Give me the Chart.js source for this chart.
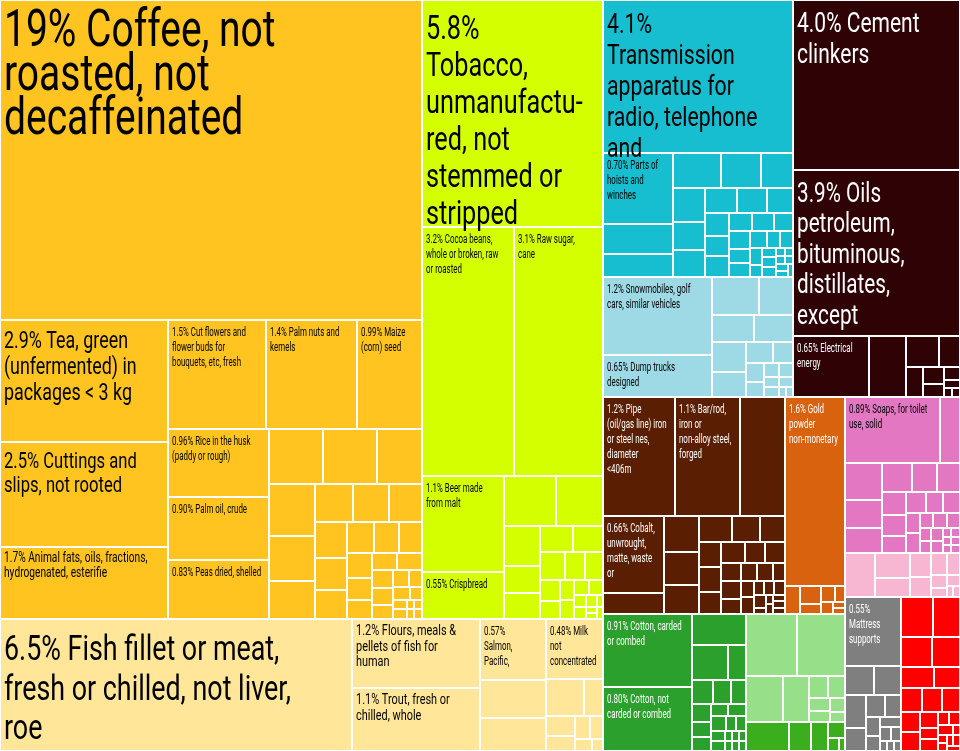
<!DOCTYPE html>
<html>
<head>
<meta charset="utf-8">
<title>Export treemap</title>
<script src="https://cdn.jsdelivr.net/npm/chart.js@4.4.1/dist/chart.umd.min.js"></script>
<style>
  html, body { margin: 0; padding: 0; background: #fff; }
  #graph { display: block; }
</style>
</head>
<body>
<canvas id="graph" width="960" height="751"></canvas>
<script>
// ---- data (share of exports, %) ----
const vegNames = ['19% Coffee, not\nroasted, not\ndecaffeinated', '2.9% Tea, green\n(unfermented) in\npackages < 3 kg',
    '2.5% Cuttings and\nslips, not rooted', '1.7% Animal fats, oils, fractions,\nhydrogenated, esterifie',
    '1.5% Cut flowers and\nflower buds for\nbouquets, etc, fresh', '1.4% Palm nuts and\nkernels', '0.99% Maize\n(corn) seed',
    '0.96% Rice in the husk\n(paddy or rough)', '0.90% Palm oil, crude', '0.83% Peas dried, shelled'];
const vegValues = [19, 2.9, 2.5, 1.7, 1.5, 1.4, 0.99, 0.96, 0.90, 0.83];
const vegSmall = [0.43, 0.42, 0.35, 0.34, 0.3, 0.25, 0.2, 0.19, 0.17, 0.16, 0.14, 0.13, 0.12, 0.11, 0.1, 0.09, 0.08,
    0.07, 0.06, 0.06, 0.05, 0.05, 0.04, 0.04, 0.03, 0.03, 0.02, 0.02, 0.02, 0.01, 0.01, 0.01, 0.01];

const foodNames = ['5.8%\nTobacco,\nunmanufactu-\nred, not\nstemmed or\nstripped', '3.2% Cocoa beans,\nwhole or broken, raw\nor roasted',
    '3.1% Raw sugar,\ncane', '1.1% Beer made\nfrom malt', '0.55% Crispbread'];
const foodValues = [5.8, 3.24, 3.14, 1.1, 0.55];
const foodSmall = [0.37, 0.33, 0.2, 0.14, 0.13, 0.12, 0.11, 0.1, 0.08, 0.07, 0.06, 0.05, 0.04, 0.04, 0.03, 0.03, 0.02,
    0.02, 0.02, 0.01, 0.01, 0.01, 0.01];

const animalNames = ['6.5% Fish fillet or meat,\nfresh or chilled, not liver,\nroe', '1.2% Flours, meals &\npellets of fish for\nhuman',
    '1.1% Trout, fresh or\nchilled, whole', '0.57%\nSalmon,\nPacific,', '0.48% Milk\nnot\nconcentrated'];
const animalValues = [6.54, 1.24, 1.14, 0.57, 0.48];
const animalSmallA = [0.35, 0.31];
const animalSmallB = [0.2, 0.1, 0.08, 0.06, 0.05, 0.04, 0.03, 0.02];

const machNames = ['4.1%\nTransmission\napparatus for\nradio, telephone\nand', '0.70% Parts of\nhoists and\nwinches', '', ''];
const machValues = [4.1, 0.70, 0.29, 0.23];
const machSmall = [0.24, 0.2, 0.16, 0.15, 0.13, 0.12, 0.11, 0.1, 0.09, 0.08, 0.07, 0.07, 0.06, 0.06, 0.05, 0.05, 0.04,
    0.04, 0.04, 0.03, 0.03, 0.03, 0.02, 0.02, 0.02, 0.02, 0.01, 0.01, 0.01, 0.01, 0.01, 0.01, 0.01];

const transNames = ['1.2% Snowmobiles, golf\ncars, similar vehicles', '0.65% Dump trucks\ndesigned'];
const transValues = [1.2, 0.65];
const transSmall = [0.25, 0.18, 0.16, 0.15, 0.14, 0.12, 0.08, 0.06, 0.05, 0.04, 0.03, 0.03, 0.02, 0.02, 0.02, 0.01, 0.01];

const mineralNames = ['4.0% Cement\nclinkers', '3.9% Oils\npetroleum,\nbituminous,\ndistillates,\nexcept', '0.65% Electrical\nenergy'];
const mineralValues = [4.0, 3.9, 0.65];
const mineralSmall = [0.32, 0.14, 0.09, 0.07, 0.05, 0.04, 0.03, 0.02, 0.01, 0.01];

const metalNames = ['1.2% Pipe\n(oil/gas line) iron\nor steel nes,\ndiameter\n<406m', '1.1% Bar/rod,\niron or\nnon-alloy steel,\nforged', '',
    '0.66% Cobalt,\nunwrought,\nmatte, waste\nor', ''];
const metalValues = [1.2, 1.1, 0.75, 0.66, 0.18];
const metalSmall = [0.17, 0.16, 0.14, 0.12, 0.1, 0.09, 0.08, 0.08, 0.07, 0.07, 0.06, 0.06, 0.05, 0.05, 0.04, 0.04, 0.04,
    0.03, 0.03, 0.03, 0.02, 0.02, 0.02, 0.02, 0.01, 0.01, 0.01, 0.01, 0.01, 0.01];

const goldNames = ['1.6% Gold\npowder\nnon-monetary'];
const goldValues = [1.6];
const goldSmall = [0.06, 0.05, 0.03, 0.03, 0.02, 0.02, 0.01, 0.01];

const cottonNames = ['0.91% Cotton, carded\nor combed', '0.80% Cotton, not\ncarded or combed'];
const cottonValues = [0.91, 0.80];
const cottonSmall = [0.24, 0.18, 0.09, 0.07, 0.06, 0.05, 0.05, 0.04, 0.04, 0.03, 0.03, 0.03, 0.02, 0.02, 0.02, 0.02,
    0.01, 0.01, 0.01, 0.01, 0.01, 0.01];
const lightGreenSmall = [0.45, 0.41, 0.24, 0.17, 0.06, 0.05, 0.04, 0.03, 0.03, 0.02];
const midGreenSmall = [0.18, 0.09, 0.07, 0.04, 0.02, 0.01];

const chemNames = ['0.89% Soaps, for toilet\nuse, solid', ''];
const chemValues = [0.89, 0.19];
const chemSmall = [0.19, 0.15, 0.13, 0.12, 0.1, 0.09, 0.08, 0.07, 0.06, 0.06, 0.05, 0.05, 0.04, 0.04, 0.03, 0.03, 0.03,
    0.02, 0.02, 0.02, 0.02, 0.01, 0.01, 0.01, 0.01, 0.01, 0.01];
const lightPinkSmall = [0.19, 0.12, 0.09, 0.07, 0.06, 0.05, 0.04, 0.03, 0.02, 0.02, 0.01, 0.01];

const miscNames = ['0.55%\nMattress\nsupports'];
const miscValues = [0.55];
const miscSmall = [0.12, 0.11, 0.1, 0.07, 0.06, 0.05, 0.04, 0.03, 0.03, 0.02, 0.02, 0.01, 0.01, 0.01];
const redSmall = [0.18, 0.15, 0.13, 0.12, 0.1, 0.08, 0.07, 0.07, 0.06, 0.05, 0.05, 0.04, 0.03, 0.03, 0.02, 0.02, 0.02,
    0.01, 0.01, 0.01, 0.01, 0.01, 0.01];

// ---- groups: colour + text colour ----
const veg = {names: vegNames, values: vegValues, color: '#FFC41F', ink: '#000'};
const food = {names: foodNames, values: foodValues, color: '#D4FF00', ink: '#000'};
const animal = {names: animalNames, values: animalValues, color: '#FFE699', ink: '#000'};
const mach = {names: machNames, values: machValues, color: '#17BECF', ink: '#000'};
const trans = {names: transNames, values: transValues, color: '#9EDAE5', ink: '#000'};
const mineral = {names: mineralNames, values: mineralValues, color: '#2F0205', ink: '#fff'};
const metal = {names: metalNames, values: metalValues, color: '#5A1E02', ink: '#fff'};
const gold = {names: goldNames, values: goldValues, color: '#D8620E', ink: '#fff'};
const cotton = {names: cottonNames, values: cottonValues, color: '#2CA02C', ink: '#fff'};
const lightGreen = {names: [], values: [], color: '#98DF8A', ink: '#000'};
const midGreen = {names: [], values: [], color: '#3BAE1E', ink: '#000'};
const chem = {names: chemNames, values: chemValues, color: '#E377C2', ink: '#000'};
const lightPink = {names: [], values: [], color: '#F7B6D2', ink: '#000'};
const misc = {names: miscNames, values: miscValues, color: '#7F7F7F', ink: '#fff'};
const plastic = {names: [], values: [], color: '#FF0000', ink: '#000'};

// ---- flat cell list + nesting ----
const cellValues = [], cellNames = [], cellColors = [], cellInk = [], cellStyle = [];
function item(g, i, style) {
    cellValues.push(g.values[i]); cellNames.push(g.names[i]);
    cellColors.push(g.color); cellInk.push(g.ink); cellStyle.push(style || null);
    return {cell: cellValues.length - 1};
}
function rest(g, vals) {
    return {sq: vals.map(v => {
        cellValues.push(v); cellNames.push(''); cellColors.push(g.color); cellInk.push(g.ink); cellStyle.push(null);
        return cellValues.length - 1;
    })};
}
const row = (...kids) => ({dir: 'h', kids});
const col = (...kids) => ({dir: 'v', kids});

const tree = row(
    col(
        row(
            col(item(veg, 0),
                row(col(item(veg, 1), item(veg, 2), item(veg, 3, 'wide')),
                    col(row(item(veg, 4), item(veg, 5), item(veg, 6)),
                        row(col(item(veg, 7), item(veg, 8), item(veg, 9)), rest(veg, vegSmall))))),
            col(item(food, 0),
                row(item(food, 1, 'small'), item(food, 2, 'small')),
                row(col(item(food, 3), item(food, 4)), rest(food, foodSmall)))
        ),
        row(item(animal, 0),
            col(item(animal, 1, 'mid'), item(animal, 2, 'mid')),
            col(item(animal, 3), rest(animal, animalSmallA)),
            col(item(animal, 4), rest(animal, animalSmallB)))
    ),
    col(
        row(
            col(col(item(mach, 0), row(col(item(mach, 1), item(mach, 2), item(mach, 3)), rest(mach, machSmall))),
                row(col(item(trans, 0), item(trans, 1)), rest(trans, transSmall))),
            col(item(mineral, 0), item(mineral, 1), row(item(mineral, 2), rest(mineral, mineralSmall)))
        ),
        row(
            col(
                row(col(row(item(metal, 0), item(metal, 1), item(metal, 2)),
                        row(col(item(metal, 3), item(metal, 4)), rest(metal, metalSmall))),
                    col(item(gold, 0), rest(gold, goldSmall))),
                row(col(item(cotton, 0), item(cotton, 1)), rest(cotton, cottonSmall),
                    col(rest(lightGreen, lightGreenSmall), rest(midGreen, midGreenSmall)))
            ),
            col(col(row(item(chem, 0), item(chem, 1)), rest(chem, chemSmall)),
                rest(lightPink, lightPinkSmall),
                row(col(item(misc, 0), rest(misc, miscSmall)), rest(plastic, redSmall)))
        )
    )
);

// ---- layout helpers ----
function nodeSum(node, vals) {
    if (node.cell !== undefined) return vals[node.cell];
    if (node.sq) return node.sq.reduce((s, id) => s + vals[id], 0);
    return node.kids.reduce((s, k) => s + nodeSum(k, vals), 0);
}
function squarify(ids, x0, y0, x1, y1, vals, out) {
    let left = ids.slice();
    while (left.length) {
        const w = x1 - x0, h = y1 - y0;
        const total = left.reduce((s, id) => s + vals[id], 0);
        const scale = w * h / total, side = Math.min(w, h);
        let take = 1, best = Infinity;
        for (let k = 1; k <= left.length; k++) {
            const thick = left.slice(0, k).reduce((s, id) => s + vals[id], 0) * scale / side;
            let worst = 0;
            for (let j = 0; j < k; j++) {
                const len = vals[left[j]] * scale / thick;
                worst = Math.max(worst, len / thick, thick / len);
            }
            if (worst > best) break;
            best = worst; take = k;
        }
        const rowIds = left.slice(0, take);
        const thick = rowIds.reduce((s, id) => s + vals[id], 0) * scale / side;
        let p = w >= h ? y0 : x0;
        rowIds.forEach(id => {
            const len = vals[id] * scale / thick;
            if (w >= h) out[id] = [x0, p, x0 + thick, p + len];
            else out[id] = [p, y0, p + len, y0 + thick];
            p += len;
        });
        if (w >= h) x0 += thick; else y0 += thick;
        left = left.slice(take);
    }
}
function placeNode(node, x0, y0, x1, y1, vals, out) {
    if (node.cell !== undefined) { out[node.cell] = [x0, y0, x1, y1]; return; }
    if (node.sq) { squarify(node.sq, x0, y0, x1, y1, vals, out); return; }
    const total = nodeSum(node, vals);
    let p = node.dir === 'h' ? x0 : y0;
    node.kids.forEach(k => {
        const f = nodeSum(k, vals) / total;
        if (node.dir === 'h') { const w = (x1 - x0) * f; placeNode(k, p, y0, p + w, y1, vals, out); p += w; }
        else { const h = (y1 - y0) * f; placeNode(k, x0, p, x1, p + h, vals, out); p += h; }
    });
}

// ---- a small treemap controller drawing BarElements ----
class TreemapLite extends Chart.DatasetController {
    getMinMax(scale) {
        return {min: scale.options.min, max: scale.options.max};
    }
    update(mode) {
        const meta = this._cachedMeta;
        this.updateElements(meta.data, 0, meta.data.length, mode);
    }
    updateElements(rects, start, count, mode) {
        const {xScale, yScale} = this._cachedMeta;
        const xa = xScale.getPixelForValue(xScale.min), xb = xScale.getPixelForValue(xScale.max);
        const ya = yScale.getPixelForValue(yScale.min), yb = yScale.getPixelForValue(yScale.max);
        const boxes = [];
        placeNode(tree, Math.min(xa, xb), Math.min(ya, yb), Math.max(xa, xb), Math.max(ya, yb),
            this.getDataset().data, boxes);
        for (let i = start; i < start + count; i++) {
            const [x0, y0, x1, y1] = boxes[i].map(Math.round);
            this.updateElement(rects[i], i, {
                x: (x0 + x1) / 2, y: y0, base: y1, width: x1 - x0, height: y1 - y0,
                horizontal: false, inflateAmount: 0,
                borderSkipped: {top: false, right: false, bottom: false, left: false},
                options: this.resolveDataElementOptions(i, mode)
            }, mode);
        }
    }
}
TreemapLite.id = 'treemapLite';
TreemapLite.defaults = {datasetElementType: false, dataElementType: 'bar'};
Chart.register(TreemapLite);

// ---- labels ----
const textStyles = {
    small: {size: 12, lh: 15, sx: 0.66},
    mid: {size: 14, lh: 15.5, sx: 0.78},
    wide: {size: 15, lh: 14.5, sx: 0.68}
};
function styleFor(i, v) {
    if (cellStyle[i]) return textStyles[cellStyle[i]];
    if (v >= 2.5) {
        const size = Math.min(52, 14 * Math.sqrt(v));
        return {size, lh: size >= 45 ? 44 : size * 1.1, sx: 0.75};
    }
    return textStyles.small;
}
const cellLabels = {
    id: 'cellLabels',
    afterDatasetsDraw(chart) {
        const ctx = chart.ctx;
        const meta = chart.getDatasetMeta(0);
        const ds = chart.data.datasets[0];
        meta.data.forEach((el, i) => {
            const name = ds.names[i];
            if (!name) return;
            const {x, y, width} = el.getProps(['x', 'y', 'width'], true);
            const st = styleFor(i, ds.data[i]);
            ctx.save();
            ctx.fillStyle = ds.ink[i];
            ctx.font = st.size + 'px Roboto';
            name.split('\n').forEach((line, k) => {
                ctx.save();
                ctx.translate(x - width / 2 + 4, y + st.lh * (k + 1.05));
                ctx.scale(st.sx, 1);
                ctx.fillText(line, 0, 0);
                ctx.restore();
            });
            ctx.restore();
        });
    }
};

const graph = document.getElementById('graph').getContext('2d');

let myChart = new Chart(graph, {
    type: 'treemapLite',
    data: {
        labels: cellNames.map(n => n.replace(/\n/g, ' ')),
        datasets: [{
            data: cellValues,
            names: cellNames,
            ink: cellInk,
            backgroundColor: cellColors,
            borderColor: '#ffffff',
            borderWidth: 1,
        }],
    },
    options: {
        responsive: false,
        animation: false,
        events: [],
        layout: {padding: 0},
        plugins: {legend: {display: false}, tooltip: {enabled: false}},
        scales: {
            x: {type: 'linear', min: 0, max: 100, display: false},
            y: {type: 'linear', min: 0, max: 100, display: false},
        },
    },
    plugins: [cellLabels],
});
</script>
</body>
</html>
